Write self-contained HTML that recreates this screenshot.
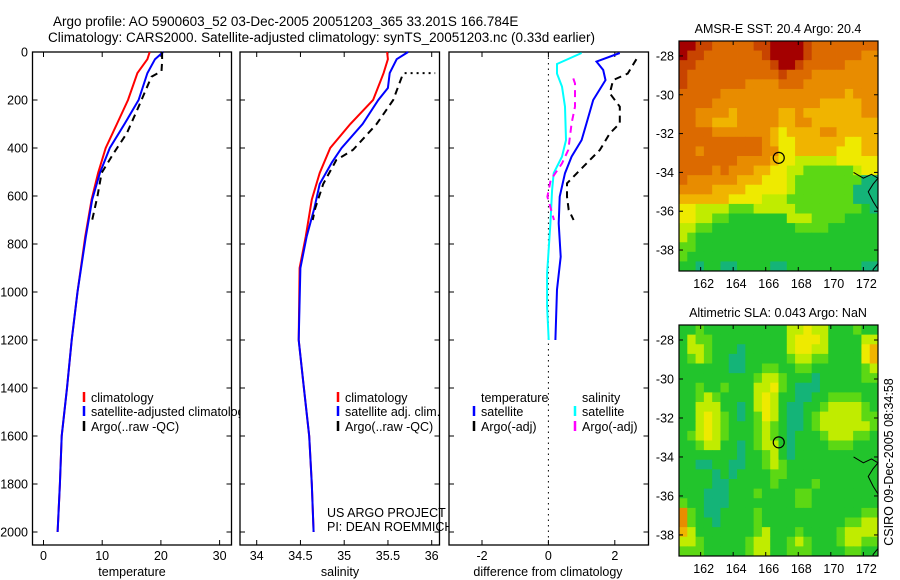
<!DOCTYPE html>
<html><head><meta charset="utf-8">
<style>
html,body{margin:0;padding:0;background:#fff;}
svg{display:block;font-family:"Liberation Sans",sans-serif;}
</style></head>
<body>
<svg id="fig" width="900" height="580" viewBox="0 0 900 580" xmlns="http://www.w3.org/2000/svg">
<defs>
<clipPath id="clip1"><rect x="0" y="0" width="240" height="580"/></clipPath>
<clipPath id="clip2"><rect x="0" y="0" width="448.5" height="580"/></clipPath>
</defs>
<rect width="900" height="580" fill="#fff"/>
<text x="53" y="26" font-size="13.5">Argo profile: AO 5900603_52 03-Dec-2005 20051203_365 33.201S 166.784E</text>
<text x="48" y="42" font-size="13.5">Climatology: CARS2000. Satellite-adjusted climatology: synTS_20051203.nc (0.33d earlier)</text>
<g id="g"></g>
</svg>
<script>
// ---------- DATA ----------
const tP_red = [0,30,88,200,300,400,504,615,770,1000,1200,1400,1600,1800,2000];
const tV_red = [18.1,17.7,16.0,14.4,12.5,10.6,9.3,8.2,7.1,5.8,4.8,4.0,3.1,2.8,2.4];
const tP_blue = [0,30,88,200,300,400,504,615,770,1000,1200,1400,1600,1800,2000];
const tV_blue = [20.4,19.0,17.7,16.2,13.8,11.3,9.6,8.3,7.2,5.8,4.8,4.0,3.1,2.8,2.4];
const tP_argo = [0,40,80,103,160,228,338,420,504,600,700];
const tV_argo = [20.2,20.2,20.1,18.4,17.4,16.2,14.2,12.0,9.9,9.2,8.3];
const sP_red = [0,30,88,200,300,400,504,615,770,900,1200,1400,1600,1800,2000];
const sV_red = [35.49,35.50,35.45,35.33,35.07,34.84,34.72,34.63,34.56,34.49,34.48,34.54,34.60,34.63,34.65];
const sP_blue = [0,30,88,150,200,300,400,460,550,650,770,900,1200,1400,1600,1800,2000];
const sV_blue = [35.73,35.60,35.52,35.50,35.39,35.21,34.97,34.86,34.72,34.66,34.57,34.50,34.48,34.54,34.60,34.63,34.65];
const sP_argo = [103,200,300,408,450,550,650,700];
const sV_argo = [35.66,35.56,35.37,35.10,34.91,34.76,34.67,34.64];
const sDotP = [88,88];
const sDotV = [35.69,36.04];
const dP_tsat = [4,40,75,117,200,296,367,436,505,603,714,853,990,1200];
const dV_tsat = [2.15,1.45,1.65,1.72,1.35,1.15,1.0,0.7,0.5,0.34,0.31,0.37,0.26,0.21];
const dP_ssat = [4,50,90,144,228,367,436,505,575,714,922,1060,1200];
const dV_ssat = [1.0,0.26,0.26,0.41,0.5,0.53,0.41,0.16,0.11,0.06,-0.04,-0.04,0.01];
const dP_sargo = [110,131,228,297,408,464,533,603,700];
const dV_sargo = [0.75,0.8,0.8,0.7,0.6,0.41,0.07,-0.03,0.17];
const dP_targo = [30,90,117,172,228,297,339,408,478,547,603,658,700];
const dV_targo = [2.65,2.39,1.95,1.85,2.15,2.15,1.85,1.55,1.05,0.56,0.56,0.61,0.76];
const pTicks = [0,200,400,600,800,1000,1200,1400,1600,1800,2000];
const tTicks = [0,10,20,30];
const sTicks = [34,34.5,35,35.5,36];
const dTicks = [-2,0,2];
const lonTicks = [162,164,166,168,170,172];
const latTicks = [-28,-30,-32,-34,-36,-38];
const argoLon = 166.8, argoLat = -33.25;
const sstGrid = [
"998877777889999877777777",
"988777777789999877777766",
"887777777778998777776666",
"877777777777877766666666",
"877777776666777666666666",
"777776666666666666665666",
"777766666666666665555566",
"776666566666556555555566",
"776655566666556655555555",
"777766666665455556655555",
"777777777765445555554455",
"776777777766445555544455",
"777777766665443333344444",
"777767666554433222222344",
"766666655544432222222200",
"666655554444432222222000",
"555555444433322222222000",
"443333222333332222222210",
"443322111111133322221111",
"332211111111112222111111",
"321111111111111111111111",
"221111111111111111111111",
"211111111111111111111111",
"110110011110011111111100"];
const slaGrid = [
"112111111111133433111211",
"132211111111134443111133",
"133211101111134433111145",
"123211001111123322111145",
"111111001122112211111123",
"111111111233211101111122",
"112112111334210001111111",
"112321111343110011222211",
"113331101343100112333321",
"113432101243100123333322",
"113432111232100123333332",
"123432111232101112333221",
"112331101233101111222111",
"111111101123101111111111",
"110011001123211111111111",
"111101011112211111111111",
"111100111112111121111111",
"111000111211112211111111",
"211000111111112211111111",
"621001111211111111111122",
"621101111211111111112233",
"531111111231112111123333",
"332111112331123211123322",
"222111112331122211112211"];
const palette = ["#14b478","#22c42c","#5cd814","#c0ec00","#eeea00","#f0b400","#e88c00","#dc6a00","#c84400","#a40000"];

// ---------- HELPERS ----------
const NS = "http://www.w3.org/2000/svg";
const G = document.getElementById("g");
function mk(tag, attrs, parent){const e=document.createElementNS(NS,tag);for(const k in attrs)e.setAttribute(k,attrs[k]);(parent||G).appendChild(e);return e;}
const yP = p => 52 + 0.24*p;
const xT = v => 43.5 + 5.87*v;
const xS = v => 256.7 + 87.5*(v-34);
const xD = v => 548.4 + 33.2*v;

function panel(x0,x1,name){
  const r = mk("rect",{x:x0,y:52,width:x1-x0,height:493,fill:"none",stroke:"#000","stroke-width":1.3});
  
  
  pTicks.forEach(p=>{
    mk("line",{x1:x0,x2:x0+5,y1:yP(p),y2:yP(p),stroke:"#000"});
    mk("line",{x1:x1-5,x2:x1,y1:yP(p),y2:yP(p),stroke:"#000"});
  });
}
function xticks(ticks,fx,x0,name){
  ticks.forEach(t=>{
    mk("line",{x1:fx(t),x2:fx(t),y1:52,y2:57,stroke:"#000"});
    mk("line",{x1:fx(t),x2:fx(t),y1:540,y2:545,stroke:"#000"});
    const tx = mk("text",{x:fx(t),y:560,"font-size":12.5,"text-anchor":"middle"});
    tx.textContent = String(t);
    
    
  });
}
function line(P,V,fx,color,name,dash,w){
  const pts = P.map((p,i)=>fx(V[i]).toFixed(1)+","+yP(p).toFixed(1)).join(" ");
  const attrs = {points:pts,fill:"none",stroke:color,"stroke-width":w||2};
  if(dash) attrs["stroke-dasharray"]=dash;
  const e = mk("polyline",attrs);
  
  
}
function txt(x,y,s,name,size,anchor){
  const t = mk("text",{x:x,y:y,"font-size":size||12.5,"text-anchor":anchor||"start"});
  t.textContent = s;
  
  
  return t;
}
function legBar(x,y,color,name){
  const e = mk("line",{x1:x,x2:x,y1:y-10,y2:y,stroke:color,"stroke-width":2.5});
  
  
}

// ---------- PANEL 1: temperature ----------
panel(32.5,231.5,"temperature-panel");
xticks(tTicks,xT,32.5,"temperature-x");
pTicks.forEach(p=>{
  txt(28,yP(p)+4.5,String(p),"pressure-tick-label",12.5,"end");
});
line(tP_red,tV_red,xT,"#ff0000","temperature-climatology-line");
line(tP_blue,tV_blue,xT,"#0000ff","temperature-satellite-line");
line(tP_argo,tV_argo,xT,"#000","temperature-argo-line","7,5");
txt(132,576,"temperature","temperature-axis-title",12.5,"middle");
legBar(84,402,"#ff0000","legend-climatology-swatch");
txt(91,402,"climatology","legend-climatology");
legBar(84,416,"#0000ff","legend-satellite-swatch");
txt(91,416,"satellite-adjusted climatology","legend-satellite-adjusted").setAttribute("clip-path","url(#clip1)");
legBar(84,431,"#000","legend-argo-swatch");
txt(91,431,"Argo(..raw -QC)","legend-argo");

// ---------- PANEL 2: salinity ----------
panel(240,439.5,"salinity-panel");
xticks(sTicks,xS,240,"salinity-x");
line(sP_red,sV_red,xS,"#ff0000","salinity-climatology-line");
line(sP_blue,sV_blue,xS,"#0000ff","salinity-satellite-line");
line(sP_argo,sV_argo,xS,"#000","salinity-argo-line","7,5");
line(sDotP,sDotV,xS,"#000","salinity-argo-raw-dotted","2,4");
txt(340,576,"salinity","salinity-axis-title",12.5,"middle");
legBar(338,402,"#ff0000","legend2-climatology-swatch");
txt(345,402,"climatology","legend2-climatology");
legBar(338,416,"#0000ff","legend2-satellite-swatch");
txt(345,416,"satellite adj. clim.","legend2-satellite");
legBar(338,431,"#000","legend2-argo-swatch");
txt(345,431,"Argo(..raw -QC)","legend2-argo");
txt(327,517,"US ARGO PROJECT","project-credit");
txt(327,531,"PI: DEAN ROEMMICH","pi-credit").setAttribute("clip-path","url(#clip2)");

// ---------- PANEL 3: differences ----------
panel(449,648.5,"difference-panel");
xticks(dTicks,xD,449,"difference-x");
mk("line",{x1:xD(0),x2:xD(0),y1:52,y2:545,stroke:"#000","stroke-dasharray":"1.5,4"});
line(dP_ssat,dV_ssat,xD,"#00ffff","salinity-satellite-diff-line");
line(dP_tsat,dV_tsat,xD,"#0000ff","temperature-satellite-diff-line");
line(dP_sargo,dV_sargo,xD,"#ff00ff","salinity-argo-diff-line","7,5");
line(dP_targo,dV_targo,xD,"#000","temperature-argo-diff-line","7,5");
txt(548,576,"difference from climatology","difference-axis-title",12.5,"middle");
txt(481,402,"temperature","legend3-temperature-header");
txt(582,402,"salinity","legend3-salinity-header");
legBar(474,416,"#0000ff","legend3-temp-satellite-swatch");
txt(481,416,"satellite","legend3-temp-satellite");
legBar(474,431,"#000","legend3-temp-argo-swatch");
txt(481,431,"Argo(-adj)","legend3-temp-argo");
legBar(575,416,"#00ffff","legend3-sal-satellite-swatch");
txt(582,416,"satellite","legend3-sal-satellite");
legBar(575,431,"#ff00ff","legend3-sal-argo-swatch");
txt(582,431,"Argo(-adj)","legend3-sal-argo");

// ---------- MAPS ----------
const LON0=160.67, LON1=172.9, LAT0=-27.23, LAT1=-39.08;
function drawMap(grid, top, bottom, title, name){
  const x0=679, x1=878;
  const xL = lon => x0 + (lon-LON0)/(LON1-LON0)*(x1-x0);
  const yL = lat => top + (lat-LAT0)/(LAT1-LAT0)*(bottom-top);
  const rows = grid.length, cols = grid[0].length;
  const dLon=(LON1-LON0)/cols, dLat=(LAT1-LAT0)/rows;
  grid.forEach((row,r)=>{
    for(let c=0;c<cols;c++){
      const xa=xL(LON0+c*dLon), xb=xL(LON0+(c+1)*dLon);
      const ya=yL(LAT0+r*dLat), yb=yL(LAT0+(r+1)*dLat);
      const cell = mk("rect",{x:xa.toFixed(2),y:ya.toFixed(2),width:(xb-xa+0.4).toFixed(2),height:(yb-ya+0.4).toFixed(2),fill:palette[+row[c]]});
      
      
    }
  });
  const coast = mk("polyline",{points:[[171.4,-34.0],[172.0,-34.3],[172.5,-34.1],[172.9,-34.3],[172.6,-34.6],[172.3,-35.0],[172.6,-35.5],[172.9,-35.9]].map(a=>xL(a[0])+","+yL(a[1])).join(" "),fill:"none",stroke:"#000","stroke-width":1});
  
  
  const coast2 = mk("polyline",{points:[[172.9,-38.7],[172.6,-39.0],[172.6,-39.08]].map(a=>xL(a[0])+","+yL(a[1])).join(" "),fill:"none",stroke:"#000","stroke-width":1});
  
  
  const fr = mk("rect",{x:x0,y:top,width:x1-x0,height:bottom-top,fill:"none",stroke:"#000","stroke-width":1.2});
  
  
  lonTicks.forEach(l=>{
    mk("line",{x1:xL(l),x2:xL(l),y1:top,y2:top+4,stroke:"#000"});
    mk("line",{x1:xL(l),x2:xL(l),y1:bottom-4,y2:bottom,stroke:"#000"});
    txt(xL(l)+3,bottom+17,String(l),name+"-lon-label",12.5,"middle");
  });
  latTicks.forEach(l=>{
    mk("line",{x1:x0,x2:x0+4,y1:yL(l),y2:yL(l),stroke:"#000"});
    mk("line",{x1:x1-4,x2:x1,y1:yL(l),y2:yL(l),stroke:"#000"});
    txt(x0-5,yL(l)+4.5,String(l),name+"-lat-label",12.5,"end");
  });
  const c = mk("circle",{cx:xL(argoLon),cy:yL(argoLat),r:5.5,fill:"none",stroke:"#000","stroke-width":1.2});
  
  
  txt(778,top-8,title,name+"-title",12.5,"middle");
}
drawMap(sstGrid,41,271,"AMSR-E SST: 20.4 Argo: 20.4","sst-map");
drawMap(slaGrid,325,556,"Altimetric SLA: 0.043 Argo: NaN","sla-map");
const stamp = txt(0,0,"CSIRO 09-Dec-2005 08:34:58","timestamp",12.5,"middle");
stamp.setAttribute("transform","translate(893,462) rotate(-90)");
</script>
</body></html>
